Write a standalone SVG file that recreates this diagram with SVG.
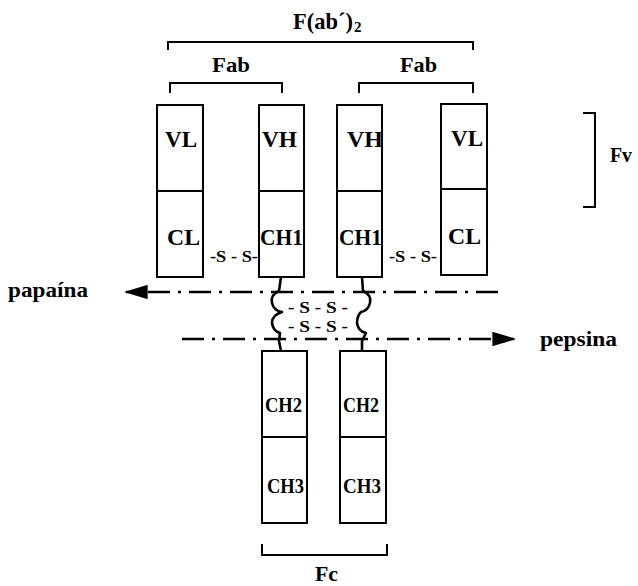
<svg xmlns="http://www.w3.org/2000/svg" width="638" height="586" viewBox="0 0 638 586">
  <style>
    .box { fill: #fff; stroke: #000; stroke-width: 2; }
    .sep { stroke: #000; stroke-width: 2; }
    .brk { fill: none; stroke: #000; stroke-width: 2; }
    .lbl { font-family: "Liberation Serif", "Times New Roman", serif; font-weight: bold; fill: #000; }
    .dom { font-size: 24px; }
    .dom2 { font-size: 20px; }
    .ss { font-family: "Liberation Serif", "Times New Roman", serif; font-size: 17px; font-weight: bold; fill: #000; }
    .cut { fill: none; stroke: #000; stroke-width: 2.4; stroke-dasharray: 22 8 3 8; }
    .hinge { fill: none; stroke: #000; stroke-width: 2.6; stroke-linejoin: round; }
  </style>
  <defs>
    <marker id="arrow" markerWidth="10" markerHeight="6" refX="9" refY="3" orient="auto" markerUnits="strokeWidth">
      <path d="M0,0 L10,3 L0,6 z" fill="#000"/>
    </marker>
  </defs>

  <rect width="638" height="586" fill="#fff"/>

  <!-- region brackets -->
  <g id="fab2-bracket">
    <path class="brk" d="M168,50 V42 H473 V50"/>
    <text class="lbl" x="293" y="29" font-size="23" textLength="60" lengthAdjust="spacingAndGlyphs">F(ab´)</text>
    <text class="lbl" x="354" y="32" font-size="15">2</text>
  </g>
  <g id="fab-left-bracket">
    <path class="brk" d="M170,93 V83 H282 V93"/>
    <text class="lbl" x="212" y="72" font-size="22" textLength="38" lengthAdjust="spacingAndGlyphs">Fab</text>
  </g>
  <g id="fab-right-bracket">
    <path class="brk" d="M359,93 V83 H473 V93"/>
    <text class="lbl" x="400" y="72" font-size="22" textLength="37" lengthAdjust="spacingAndGlyphs">Fab</text>
  </g>
  <g id="fv-bracket">
    <path class="brk" d="M583,113 H595 V207 H583"/>
    <text class="lbl" x="610" y="162" font-size="22" textLength="22" lengthAdjust="spacingAndGlyphs">Fv</text>
  </g>
  <g id="fc-bracket">
    <path class="brk" d="M262,544 V555 H387 V544"/>
    <text class="lbl" x="315" y="581" font-size="21" textLength="23" lengthAdjust="spacingAndGlyphs">Fc</text>
  </g>

  <!-- connectors: cleavage lines and hinge -->
  <g id="connectors">
    <path class="cut" d="M498,292 H126" marker-end="url(#arrow)"/>
    <path class="cut" d="M182,339 H514" marker-end="url(#arrow)"/>
    <path class="hinge" d="M281,277 L279,291 Q270,295 272,303 Q274,311 282,312 Q272,315 272,323 Q273,331 280,333 L279,341 L281,351"/>
    <path class="hinge" d="M362,277 L363,291 Q372,295 370,303 Q368,311 361,312 Q357,316 357,323 Q358,331 366,333 L362,341 L362,351"/>
  </g>

  <!-- light chain, left -->
  <g id="light-left">
    <rect class="box" x="157" y="105" width="46" height="172"/>
    <line class="sep" x1="157" y1="191" x2="203" y2="191"/>
    <text class="lbl dom" x="165" y="147" textLength="32" lengthAdjust="spacingAndGlyphs">VL</text>
    <text class="lbl dom" x="167" y="245" textLength="33" lengthAdjust="spacingAndGlyphs">CL</text>
  </g>
  <!-- heavy chain, left -->
  <g id="heavy-left">
    <rect class="box" x="259" y="105" width="45" height="172"/>
    <line class="sep" x1="259" y1="191" x2="304" y2="191"/>
    <text class="lbl dom" x="262" y="147" textLength="35" lengthAdjust="spacingAndGlyphs">VH</text>
    <text class="lbl dom" x="260" y="245" textLength="43" lengthAdjust="spacingAndGlyphs">CH1</text>
  </g>
  <!-- heavy chain, right -->
  <g id="heavy-right">
    <rect class="box" x="337" y="105" width="45" height="172"/>
    <line class="sep" x1="337" y1="191" x2="382" y2="191"/>
    <text class="lbl dom" x="347" y="147" textLength="36" lengthAdjust="spacingAndGlyphs">VH</text>
    <text class="lbl dom" x="339" y="245" textLength="43" lengthAdjust="spacingAndGlyphs">CH1</text>
  </g>
  <!-- light chain, right -->
  <g id="light-right">
    <rect class="box" x="441" y="104" width="46" height="171"/>
    <line class="sep" x1="441" y1="189" x2="487" y2="189"/>
    <text class="lbl dom" x="451" y="146" textLength="32" lengthAdjust="spacingAndGlyphs">VL</text>
    <text class="lbl dom" x="448" y="244" textLength="33" lengthAdjust="spacingAndGlyphs">CL</text>
  </g>

  <!-- Fc heavy chain domains -->
  <g id="fc-left">
    <rect class="box" x="262" y="351" width="45" height="172"/>
    <line class="sep" x1="262" y1="437" x2="307" y2="437"/>
    <text class="lbl dom2" x="265" y="412" textLength="37" lengthAdjust="spacingAndGlyphs">CH2</text>
    <text class="lbl dom2" x="267" y="493" textLength="37" lengthAdjust="spacingAndGlyphs">CH3</text>
  </g>
  <g id="fc-right">
    <rect class="box" x="340" y="351" width="46" height="172"/>
    <line class="sep" x1="340" y1="437" x2="386" y2="437"/>
    <text class="lbl dom2" x="343" y="412" textLength="36" lengthAdjust="spacingAndGlyphs">CH2</text>
    <text class="lbl dom2" x="343" y="493" textLength="38" lengthAdjust="spacingAndGlyphs">CH3</text>
  </g>

  <!-- disulfide bonds -->
  <g id="ss-bonds">
    <text class="ss" x="210" y="262" textLength="48" lengthAdjust="spacingAndGlyphs">-S - S-</text>
    <text class="ss" x="389" y="262" textLength="48" lengthAdjust="spacingAndGlyphs">-S - S-</text>
    <text class="ss" x="288" y="313" textLength="60" lengthAdjust="spacingAndGlyphs">- S - S -</text>
    <text class="ss" x="288" y="332" textLength="60" lengthAdjust="spacingAndGlyphs">- S - S -</text>
  </g>

  <!-- enzyme labels -->
  <g id="papaina">
    <text class="lbl" x="8" y="297" font-size="22" textLength="80" lengthAdjust="spacingAndGlyphs">papaína</text>
  </g>
  <g id="pepsina">
    <text class="lbl" x="540" y="346" font-size="22" textLength="77" lengthAdjust="spacingAndGlyphs">pepsina</text>
  </g>
</svg>
